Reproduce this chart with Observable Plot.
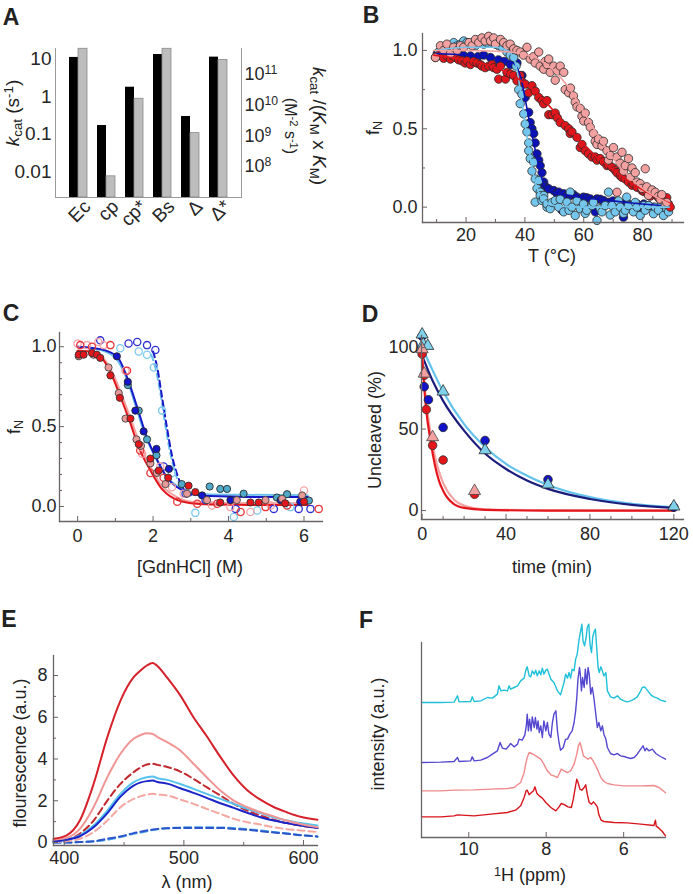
<!DOCTYPE html>
<html><head><meta charset="utf-8">
<script src="https://cdn.jsdelivr.net/npm/d3@7"></script>
<script src="https://cdn.jsdelivr.net/npm/@observablehq/plot@0.6"></script>
<style>
body{margin:0;background:#fff;}
#fig{position:relative;width:693px;height:894px;font-family:"Liberation Sans",Arial,Helvetica,sans-serif;color:#222;overflow:hidden;background:#fff}
.lbl{position:absolute;font-size:18px;white-space:nowrap;line-height:1}
.lbl sub{font-size:0.7em;vertical-align:-0.25em}
.lbl sup{font-size:0.7em;vertical-align:0.45em}
</style></head><body><div id="fig"></div>
<script>
// ---------- Panel A ----------
const aCategories = ["Ec","cp","cp*","Bs","Δ","Δ*"];
const aKcat = [10.8, 0.171, 1.76, 12.9, 0.296, 11.0];
const aKcatKmKm = [6.9e11, 4.8e7, 1.62e10, 6.9e11, 1.23e9, 3.0e11];
const aKcatTicks = [10, 1, 0.1, 0.01];
const aRightTicks = [1e8, 1e9, 1e10, 1e11];
const aKcatDomain = [0.00213, 18.6];
const aRightDomain = [9.8e6, 7.05e11];
// ---------- Panel B ----------
const bXTicks = [20, 40, 60, 80];
const bXMinor = [10, 30, 50, 70, 90];
const bYTicks = [0, 0.5, 1];
const bYMinor = [0.25, 0.75];
const bXDomain = [5.2, 93.9];
const bYDomain = [-0.098, 1.108];
const bPink = [[9.6,0.955],[11.3,1.03],[12.4,1.0],[13.5,1.04],[14.7,0.98],[15.8,1.02],[17,1.0],[18.1,1.03],[19.2,1.02],[21,1.05],[22.1,1.03],[23.2,1.07],[24.3,1.05],[25.4,1.08],[26.5,1.06],[27.7,1.09],[28.3,1.06],[29.4,1.08],[30,1.04],[31.7,1.07],[32.8,1.05],[33.9,1.03],[35,1.04],[36.2,1.01],[37.3,1.0],[38.4,0.99],[39.5,0.97],[40.7,1.02],[41.8,0.945],[42.9,0.96],[43.5,0.92],[44.7,0.99],[45.2,0.9],[46.4,0.88],[46.9,0.93],[47.5,0.91],[48.1,0.945],[48.6,0.86],[49.8,0.9],[50.3,0.81],[51,0.87],[52,0.9],[53.2,0.86],[53.7,0.75],[54.9,0.73],[55.5,0.76],[56.5,0.71],[57.1,0.67],[57.7,0.64],[58.8,0.63],[59.4,0.58],[60,0.55],[60.5,0.6],[61.6,0.54],[62.2,0.51],[63.3,0.47],[63.9,0.42],[64.5,0.4],[65,0.435],[66.2,0.39],[66.7,0.42],[67.9,0.36],[68.4,0.3],[69,0.33],[70.1,0.38],[71.3,0.32],[71.3,0.095],[72.4,0.28],[73,0.35],[73.5,0.23],[74.1,0.265],[75.2,0.31],[75.8,0.19],[76.4,0.25],[77.5,0.22],[78.1,0.16],[79.2,0.15],[79.8,0.12],[80.9,0.245],[81.4,0.13],[82,0.075],[83.2,0.11],[84.3,0.095],[85.4,0.07],[86,0.05],[86.5,0.08],[87.7,0.02],[88.2,0.03]];
const bRed = [[9.6,0.955],[10.7,0.97],[11.9,0.99],[12.4,0.95],[13.5,0.965],[14.7,0.945],[15.2,0.97],[16.4,0.955],[17.5,0.94],[18.6,0.934],[19.7,0.92],[20.3,0.934],[21.5,0.91],[22.6,0.93],[23.7,0.92],[24.8,0.91],[25.4,0.9],[26.5,0.89],[27.7,0.9],[28.8,0.91],[29.4,0.89],[30.5,0.88],[31.1,0.817],[31.7,0.9],[33.4,0.817],[33.9,0.86],[35.1,0.85],[36.2,0.84],[37.3,0.807],[38.4,0.84],[39,0.8],[40.1,0.785],[41.3,0.73],[42.4,0.775],[43.5,0.74],[44.7,0.7],[45.8,0.68],[46.4,0.66],[47.5,0.68],[48.1,0.59],[49.2,0.59],[50.3,0.6],[51,0.57],[52,0.54],[53.7,0.52],[54.9,0.5],[55.4,0.47],[56,0.48],[57.7,0.445],[58.8,0.38],[59.4,0.4],[60.5,0.36],[61.6,0.34],[62.8,0.32],[63.9,0.32],[64.5,0.3],[65.6,0.31],[66.7,0.29],[67.9,0.265],[68.4,0.27],[69.6,0.255],[70.7,0.235],[71.3,0.22],[72.4,0.2],[73,0.19],[74.1,0.18],[75.2,0.16],[76.4,0.14],[77,0.15],[78.1,0.127],[79.8,0.106],[80.4,0.1],[81.4,0.096],[82.6,0.07],[83.2,0.085],[84.8,0.074],[85.4,0.06],[86.5,0.053],[87.7,0.04],[88.2,0.06],[88.8,0.02],[89.4,0.0]];
const bBlue = [[10.2,0.98],[12,0.97],[14.7,0.99],[17,0.98],[19,0.97],[21.5,0.965],[24,0.96],[26,0.97],[28.3,0.955],[31,0.94],[33,0.93],[35.1,0.91],[37.3,0.92],[39,0.84],[40.1,0.7],[41.3,0.605],[41.8,0.54],[42.4,0.5],[43,0.47],[43.5,0.41],[44.1,0.34],[44.7,0.3],[45.2,0.265],[45.8,0.22],[46.4,0.16],[46.4,0.138],[47,0.13],[47.5,0.117],[48.1,0.117],[49.8,0.106],[50.8,0.09],[51.5,0.096],[52.6,-0.02],[53.2,0.085],[54.3,0.07],[55.4,0.074],[56.5,0.08],[57.7,0.064],[58.8,0.05],[59.9,0.064],[61,0.06],[62.2,0.053],[63.3,0.04],[63.9,-0.03],[64.5,0.053],[65.6,0.05],[66.7,0.042],[68,0.03],[69,0.032],[70,0.04],[71.3,0.032],[72.4,0.02],[73.5,0.02],[73.5,-0.064],[74.6,0.03],[75.8,0.01],[77,0.01],[78.1,0.02],[79.2,0],[80.4,0.02],[82,0.01],[83.7,0.0]];
const bLight = [[10.7,0.99],[12.4,1.0],[13.5,1.02],[15.8,1.05],[17,1.03],[18.1,1.04],[19.2,1.06],[20.3,1.05],[21.5,1.04],[23.2,1.03],[24.3,1.06],[26,1.04],[27,1.05],[28.8,1.05],[30,1.06],[31.1,1.03],[32.3,1.02],[33.9,0.99],[35,0.97],[36.2,0.955],[37,0.9],[37.9,0.75],[38.4,0.66],[39,0.72],[39.6,0.595],[40.1,0.53],[40.7,0.48],[41.3,0.41],[41.3,0.36],[41.8,0.31],[42.4,0.23],[43,0.287],[43.5,0.18],[43.5,0.032],[44.1,0.12],[44.7,0.17],[45.2,0.096],[45.2,0.074],[45.8,0.042],[46.4,0.074],[46.4,0.053],[47.5,0],[47.5,0.02],[48.6,-0.01],[49.2,0.03],[50.3,0.042],[51.5,0],[52,0.05],[53.2,-0.03],[54.3,0.032],[55,-0.02],[55.4,0.096],[56,0],[57.1,-0.053],[57.7,0.04],[58.8,-0.01],[59.9,0.02],[60.5,-0.04],[61,-0.02],[62.8,0.01],[63.3,0.03],[64.5,-0.085],[65.6,-0.01],[66.2,-0.03],[67.3,0.01],[68.4,0.096],[69,-0.05],[69.6,0.01],[70.7,-0.03],[71.8,0.04],[72.4,0],[73.5,-0.04],[74.1,-0.02],[74.6,0.064],[75.2,0.01],[76.9,-0.03],[77.5,0.03],[78.1,0],[79.2,-0.053],[80.4,0.01],[80.9,-0.02],[82,0.01],[83.7,-0.042],[84.3,0.0],[85.4,-0.02],[86.5,0.02],[87.1,-0.053],[88.2,-0.01],[88.8,-0.03]];
const bPinkFit = [[9,1.0],[20,1.0],[30,0.995],[35,0.99],[40,0.975],[45,0.94],[50,0.87],[55,0.76],[60,0.61],[65,0.45],[70,0.31],[75,0.2],[80,0.12],[85,0.06],[89,0.02]];
const bRedFit = [[9,0.97],[15,0.955],[20,0.94],[25,0.92],[30,0.89],[35,0.85],[40,0.79],[45,0.71],[50,0.61],[55,0.5],[60,0.4],[65,0.31],[70,0.24],[75,0.17],[80,0.11],[85,0.06],[90,0.02]];
const bBlueFit = [[10,0.98],[20,0.97],[30,0.95],[35,0.93],[37,0.9],[39,0.8],[40,0.7],[41,0.6],[42,0.5],[43,0.41],[44,0.32],[45,0.24],[46,0.17],[47,0.13],[48,0.11],[50,0.09],[55,0.075],[60,0.06],[70,0.04],[80,0.02],[86,0.01]];
const bLightFit = [[10,1.0],[20,1.02],[30,1.02],[34,1.0],[36,0.96],[37,0.9],[38,0.8],[39,0.67],[40,0.54],[41,0.41],[42,0.3],[43,0.2],[44,0.13],[45,0.08],[46,0.05],[48,0.02],[52,0.005],[60,0],[89,0]];
// ---------- Panel C ----------
const cXTicks = [0, 2, 4, 6];
const cXMinor = [1, 3, 5];
const cYTicks = [0, 0.5, 1];
const cYMinor = [0.1, 0.2, 0.3, 0.4, 0.6, 0.7, 0.8, 0.9];
const cXDomain = [-0.48, 6.49];
const cYDomain = [-0.094, 1.089];
const cRedFilled = [[0.03,0.95],[0.16,0.95],[0.38,0.96],[0.51,0.95],[0.6,0.93],[0.87,0.82],[1.12,0.68],[1.4,0.55],[1.62,0.39],[1.93,0.3],[2.15,0.225],[2.4,0.18],[2.94,0.13],[3.12,0.09],[3.78,0.025],[4.58,0.025],[4.8,0.025],[5.5,0.02],[6.0,0.03]];
const cPinkFilled = [[0.03,0.94],[0.42,0.95],[0.82,0.87],[1.09,0.71],[1.27,0.55],[1.56,0.42],[1.68,0.38],[1.93,0.27],[2.1,0.21],[2.33,0.14],[2.9,0.08],[3.43,0.04],[4.22,0.04],[4.98,0.04],[5.42,0.048],[5.95,0.069]];
const cBlueFilled = [[1.04,0.94],[1.33,0.78],[1.53,0.6],[1.75,0.47],[2.09,0.36],[2.42,0.235],[3.3,0.069],[4.05,0.04],[5.38,0.04],[5.9,0.03]];
const cTealFilled = [[1.33,0.76],[1.62,0.6],[1.84,0.42],[2.09,0.32],[2.76,0.14],[3.5,0.125],[3.78,0.11],[3.96,0.11],[4.4,0.08],[5.28,0.056],[5.55,0.077],[6.13,0.037]];
const cRedOpen = [[0.07,1.01],[0.38,1.0],[0.87,1.01],[1.31,0.85],[1.66,0.35],[1.93,0.21],[2.28,0.18],[2.64,0.03],[3.17,0.017],[3.7,0.017],[4.32,-0.035],[4.98,-0.004],[5.55,0.006],[6.39,-0.015]];
const cPinkOpen = [[0.0,1.02],[0.25,1.01],[0.55,1.03],[0.69,1.01],[1.27,0.85],[1.71,0.33],[2.19,0.25],[2.5,0.12],[2.81,0.08],[3.56,0.006],[4.05,-0.004],[4.58,-0.035],[5.12,0.006],[6.0,0.1]];
const cBlueOpen = [[0.6,1.04],[1.35,1.02],[1.58,1.03],[1.84,1.01],[2.06,0.98],[2.28,0.25],[2.86,0.08],[3.39,0.04],[4.19,-0.015],[5.2,-0.015],[5.86,-0.015],[6.17,-0.015]];
const cLightOpen = [[1.13,0.99],[1.62,0.97],[1.84,0.95],[2.02,0.87],[2.24,0.6],[2.5,0.21],[3.12,-0.04],[4.14,-0.066],[4.76,-0.025],[5.64,-0.004]];
const cRedFit = [[0,0.975],[0.3,0.97],[0.6,0.94],[0.87,0.84],[1.13,0.69],[1.4,0.52],[1.62,0.37],[1.93,0.225],[2.2,0.12],[2.55,0.05],[3.0,0.02],[3.5,0.012],[4.5,0.01],[6.1,0.01]];
const cPinkFit = [[0,0.975],[0.3,0.97],[0.6,0.945],[0.9,0.85],[1.15,0.71],[1.42,0.54],[1.65,0.39],[1.95,0.24],[2.2,0.14],[2.55,0.07],[3.0,0.03],[4,0.02],[6.1,0.02]];
const cBlueFit = [[0,1.0],[0.6,0.985],[1.04,0.94],[1.31,0.81],[1.58,0.62],[1.84,0.43],[2.11,0.29],[2.37,0.18],[2.64,0.12],[2.99,0.08],[3.5,0.065],[4.5,0.06],[6.1,0.06]];
const cLightFit = [[0,1.0],[0.6,0.98],[1.0,0.93],[1.3,0.8],[1.55,0.62],[1.8,0.44],[2.08,0.3],[2.35,0.19],[2.62,0.13],[3.0,0.09],[3.5,0.075],[6.1,0.07]];
const cBlueDash = [[2.0,0.97],[2.11,0.87],[2.24,0.68],[2.37,0.49],[2.5,0.32],[2.64,0.2],[2.81,0.11],[3.0,0.07]];
const cLightDash = [[1.95,0.95],[2.06,0.87],[2.2,0.7],[2.33,0.5],[2.46,0.33],[2.6,0.2],[2.78,0.11],[3.0,0.07]];
// ---------- Panel D ----------
const dXTicks = [0, 40, 80, 120];
const dXMinor = [10, 20, 30, 50, 60, 70, 90, 100, 110];
const dYTicks = [0, 50, 100];
const dXDomain = [-0.3, 124.6];
const dYDomain = [-5.5, 107.4];
const dBlueCircles = [[0,107],[1,76],[3,68],[10,51],[30,43],[60,19],[120,2]];
const dLightTriangles = [[0,108],[0.5,102],[2.7,101],[10,73],[30,37],[60,16],[120,2.5]];
const dRedCircles = [[0,96],[1,83],[2,62],[5,40],[10,31],[25,10]];
const dPinkTriangles = [[0,99],[1,84],[5,45],[25,12]];
const dLightFit = [[0,100],[5,86],[10,73],[20,53],[30,39],[40,28.6],[50,21.4],[60,15.7],[80,8.2],[100,4.1],[120,2]];
const dNavyFit = [[0,95],[5,79.6],[10,67.3],[20,49],[30,35],[40,25.5],[50,18.4],[60,13.3],[80,7.1],[100,3.5],[120,1.6]];
const dRedFit = [[0,95],[1,75.5],[2,61],[4,43],[6,28.6],[8,18.4],[10,12.2],[15,4.1],[20,1.6],[30,0.4],[60,0],[120,0]];
const dPinkFit = [[0,97],[1,80],[2,66],[4,48],[6,34],[8,24],[10,17],[15,7],[20,3],[30,0.8],[60,0.1],[120,0]];
// ---------- Panel E ----------
const eXTicks = [400, 500, 600];
const eXMinor = [450, 550];
const eYTicks = [0, 2, 4, 6, 8];
const eYMinor = [1, 3, 5, 7];
const eXDomain = [391, 611.7];
const eYDomain = [-0.144, 8.96];
const eLambda = [391, 402, 413, 424.5, 436, 447, 458, 464, 469, 474, 478, 486, 497, 508, 519, 530.5, 541.7, 553, 564, 575, 586, 597.5, 611.7];
const eRedSolid = [0.18, 0.34, 1.05, 2.8, 5.05, 6.8, 7.92, 8.25, 8.48, 8.6, 8.45, 7.9, 7.05, 6.0, 5.1, 4.1, 3.2, 2.5, 2.05, 1.7, 1.45, 1.23, 1.09];
const ePinkSolid = [0.13, 0.22, 0.65, 1.69, 3.13, 4.25, 4.97, 5.15, 5.24, 5.2, 5.05, 4.81, 4.41, 3.77, 3.13, 2.49, 2.01, 1.69, 1.45, 1.25, 1.05, 0.89, 0.73];
const eRedDashed = [0.06, 0.13, 0.42, 1.05, 2.01, 2.81, 3.37, 3.6, 3.74, 3.77, 3.72, 3.62, 3.4, 3.05, 2.65, 2.25, 1.85, 1.53, 1.29, 1.09, 0.93, 0.81, 0.70];
const eLightSolid = [0.06, 0.13, 0.34, 0.81, 1.53, 2.33, 2.89, 3.05, 3.13, 3.16, 3.08, 3.0, 2.8, 2.57, 2.33, 2.09, 1.85, 1.61, 1.41, 1.21, 1.05, 0.93, 0.81];
const eBlueSolid = [0.06, 0.13, 0.30, 0.73, 1.41, 2.2, 2.73, 2.88, 2.94, 2.97, 2.9, 2.82, 2.6, 2.38, 2.14, 1.88, 1.66, 1.42, 1.21, 1.05, 0.93, 0.81, 0.69];
const ePinkDashed = [0.02, 0.06, 0.18, 0.5, 1.05, 1.69, 2.09, 2.22, 2.3, 2.33, 2.3, 2.25, 2.06, 1.85, 1.61, 1.37, 1.13, 0.97, 0.86, 0.73, 0.64, 0.58, 0.5];
const eBlueDashed = [0, 0, 0.02, 0.06, 0.18, 0.29, 0.45, 0.52, 0.58, 0.62, 0.65, 0.68, 0.70, 0.70, 0.70, 0.70, 0.65, 0.61, 0.54, 0.48, 0.42, 0.35, 0.29];
const eLightDashed = [0, 0, 0.02, 0.05, 0.13, 0.26, 0.42, 0.48, 0.54, 0.6, 0.64, 0.68, 0.72, 0.73, 0.73, 0.72, 0.69, 0.64, 0.58, 0.5, 0.44, 0.36, 0.28];
// ---------- Panel F ----------
const fXTicks = [10, 8, 6];
const fXDomain = [11.22, 4.92];
const fYDomain = [0, 585];
const fCyan = [[11.22,405],[10.72,405],[10.38,406],[10.29,425],[10.25,407],[9.95,408],[9.91,422],[9.86,408],[9.69,410],[9.52,420],[9.39,418],[9.26,430],[9.22,455],[9.17,440],[9.09,442],[9.00,440],[8.96,455],[8.92,445],[8.83,450],[8.74,455],[8.66,470],[8.57,478],[8.53,500],[8.49,512],[8.44,485],[8.40,482],[8.36,500],[8.31,490],[8.27,502],[8.23,485],[8.18,500],[8.14,488],[8.10,508],[8.06,490],[8.01,502],[7.97,505],[7.88,475],[7.80,465],[7.71,440],[7.63,428],[7.54,465],[7.50,490],[7.45,478],[7.41,495],[7.37,478],[7.33,505],[7.28,500],[7.24,535],[7.20,550],[7.15,595],[7.11,620],[7.08,640],[7.05,590],[7.01,575],[6.97,600],[6.94,630],[6.90,640],[6.87,580],[6.83,555],[6.80,600],[6.77,615],[6.73,625],[6.70,575],[6.66,510],[6.63,495],[6.59,512],[6.55,500],[6.51,485],[6.46,495],[6.42,440],[6.34,422],[6.25,418],[6.16,425],[6.08,415],[5.99,410],[5.91,407],[5.82,410],[5.73,415],[5.65,422],[5.56,440],[5.52,450],[5.46,452],[5.39,442],[5.30,428],[5.22,422],[5.13,418],[5.05,412],[4.92,408]];
const fPurple = [[11.22,225],[10.72,226],[10.38,228],[10.29,240],[10.25,228],[9.95,230],[9.91,242],[9.86,230],[9.69,232],[9.52,240],[9.39,250],[9.26,260],[9.19,285],[9.13,268],[9.04,265],[8.96,275],[8.92,282],[8.83,272],[8.74,280],[8.70,295],[8.62,292],[8.55,308],[8.51,340],[8.49,370],[8.46,320],[8.43,355],[8.39,320],[8.36,362],[8.31,330],[8.28,360],[8.24,325],[8.21,350],[8.18,315],[8.14,335],[8.10,300],[8.06,350],[8.01,320],[7.97,345],[7.93,310],[7.88,300],[7.84,345],[7.80,370],[7.75,380],[7.71,320],[7.67,285],[7.63,262],[7.56,270],[7.50,295],[7.45,295],[7.39,310],[7.33,320],[7.28,345],[7.24,380],[7.21,420],[7.18,475],[7.14,510],[7.12,490],[7.09,440],[7.06,480],[7.02,450],[6.99,505],[6.95,460],[6.92,510],[6.89,490],[6.85,430],[6.81,450],[6.77,420],[6.71,360],[6.68,330],[6.64,345],[6.59,320],[6.55,335],[6.51,310],[6.46,295],[6.42,270],[6.34,252],[6.25,248],[6.16,252],[6.08,245],[5.99,243],[5.91,240],[5.82,237],[5.73,240],[5.65,250],[5.56,265],[5.50,275],[5.45,260],[5.41,268],[5.35,260],[5.26,265],[5.17,252],[5.05,243],[4.92,235]];
const fPink = [[11.22,140],[10.72,140],[10.38,142],[9.86,143],[9.43,145],[9.00,147],[8.83,150],[8.66,165],[8.57,195],[8.53,220],[8.49,240],[8.44,255],[8.38,252],[8.31,248],[8.23,242],[8.14,235],[8.06,220],[7.97,200],[7.88,188],[7.80,185],[7.71,180],[7.65,195],[7.61,205],[7.54,200],[7.45,195],[7.37,200],[7.28,220],[7.21,250],[7.17,275],[7.13,285],[7.09,270],[7.04,245],[6.98,240],[6.92,235],[6.85,240],[6.79,230],[6.72,215],[6.66,200],[6.59,180],[6.51,168],[6.42,162],[6.25,158],[5.99,155],[5.56,155],[5.22,156],[5.09,150],[5.00,142],[4.92,134]];
const fRed = [[11.22,62],[10.72,62],[10.38,65],[10.29,68],[9.86,65],[9.43,70],[9.00,75],[8.79,82],[8.66,95],[8.57,120],[8.52,140],[8.49,142],[8.44,128],[8.38,135],[8.33,140],[8.29,152],[8.24,132],[8.18,125],[8.10,118],[8.01,105],[7.88,90],[7.75,80],[7.67,92],[7.61,102],[7.52,98],[7.44,92],[7.35,90],[7.30,115],[7.25,150],[7.21,175],[7.17,162],[7.13,145],[7.08,142],[7.02,150],[6.98,158],[6.94,130],[6.89,105],[6.83,100],[6.78,107],[6.73,100],[6.68,92],[6.64,68],[6.58,52],[6.51,48],[6.25,45],[5.91,44],[5.56,40],[5.22,36],[5.18,52],[5.16,34],[5.09,28],[5.00,18],[4.92,5]];

// ---------- helpers ----------
const fig = document.getElementById("fig");
const FONT = '"Liberation Sans", Arial, Helvetica, sans-serif';
const AX = "#6a6464";
const TXT = "#262626";
const baseStyle = {fontFamily: FONT, fontSize: "18px", color: TXT, background: "none", overflow: "visible"};
function put(el, left, top) {
  el.style.position = "absolute"; el.style.left = left + "px"; el.style.top = top + "px";
  fig.appendChild(el);
}
function txt(html, cx, cy, opts = {}) {
  const d = document.createElement("div");
  d.className = "lbl"; d.innerHTML = html;
  d.style.left = cx + "px"; d.style.top = cy + "px";
  d.style.transform = `translate(-50%,-50%) rotate(${opts.rot || 0}deg)`;
  if (opts.size) d.style.fontSize = opts.size + "px";
  if (opts.bold) d.style.fontWeight = "bold";
  if (opts.align) d.style.textAlign = opts.align;
  if (opts.lh) d.style.lineHeight = opts.lh;
  fig.appendChild(d);
}
const X = d => d[0], Y = d => d[1];
const blank = () => "";
function lAxes(xt, xm, yt, ym, xfmt, yfmt, xpad, ypad) {
  const m = [
    Plot.frame({anchor: "left", stroke: AX, strokeWidth: 1.3}),
    Plot.frame({anchor: "bottom", stroke: AX, strokeWidth: 1.3}),
    Plot.axisX({ticks: xt, tickFormat: xfmt, tickSize: 0, tickPadding: xpad, label: null, color: TXT}),
    Plot.axisY({ticks: yt, tickFormat: yfmt, tickSize: 0, tickPadding: ypad, label: null, color: TXT}),
    Plot.axisX({ticks: xt, tickFormat: blank, tickSize: -5, label: null, color: AX}),
    Plot.axisY({ticks: yt, tickFormat: blank, tickSize: -5, label: null, color: AX})
  ];
  if (xm) m.push(Plot.axisX({ticks: xm, tickFormat: blank, tickSize: -3, label: null, color: AX}));
  if (ym) m.push(Plot.axisY({ticks: ym, tickFormat: blank, tickSize: -3, label: null, color: AX}));
  return m;
}

// ---------- Panel A ----------
const aRows = aCategories.map((c, i) => ({c, k: aKcat[i], e: aKcatKmKm[i]}));
const aX = {type: "band", domain: aCategories, paddingInner: 0.37, paddingOuter: 0.46};
const aDims = {width: 340, height: 200, marginLeft: 55, marginRight: 99, marginTop: 18, marginBottom: 33};
const aBlack = Plot.plot({
  ...aDims, style: baseStyle,
  x: aX, y: {type: "log", domain: aKcatDomain},
  marks: [
    Plot.barY(aRows, {x: "c", y1: aKcatDomain[0], y2: "k", fill: "#000", insetRight: 9}),
    Plot.frame({anchor: "left", stroke: "#9a9a9a"}),
    Plot.frame({anchor: "bottom", stroke: "#9a9a9a"}),
    Plot.frame({anchor: "right", stroke: "#9a9a9a"}),
    Plot.axisY({ticks: aKcatTicks, tickFormat: d => String(d), tickSize: 0, tickPadding: 4, label: null, color: TXT, fontSize: 19}),
    Plot.axisX({tickSize: 0, tickPadding: 6, tickRotate: -45, dx: 9, label: null, color: TXT, fontSize: 19})
  ]
});
put(aBlack, 0, 30);
const aGray = Plot.plot({
  ...aDims, style: baseStyle,
  x: {...aX, axis: null}, y: {type: "log", domain: aRightDomain},
  marks: [
    Plot.barY(aRows, {x: "c", y1: aRightDomain[0], y2: "e", fill: "#bdbdbd", stroke: "#8a8a8a", strokeWidth: 0.8, insetLeft: 9}),
    Plot.axisY({anchor: "right", ticks: aRightTicks, tickFormat: d => "10^" + Math.round(Math.log10(d)), tickSize: 0, tickPadding: 3, label: null, color: TXT})
  ]
});
// turn "10^11" tick texts into 10 with a superscript exponent
d3.select(aGray).selectAll("text").each(function() {
  const t = d3.select(this);
  const s = t.text();
  if (s.indexOf("^") < 0) return;
  const [base, ex] = s.split("^");
  t.text(base);
  t.append("tspan").attr("dy", "-0.5em").attr("font-size", "0.68em").text(ex);
});
aGray.style.pointerEvents = "none";
put(aGray, 0, 30);

// ---------- Panel B ----------
const bDot = (data, fill) => Plot.dot(data, {x: X, y: Y, r: 4.2, fill, stroke: "#2a2a2a", strokeWidth: 0.8});
const bLine = (data, stroke) => Plot.line(data, {x: X, y: Y, stroke, strokeWidth: 1.6, curve: "monotone-x"});
const bPlot = Plot.plot({
  width: 353, height: 250, marginLeft: 82, marginRight: 10, marginTop: 13, marginBottom: 48,
  style: baseStyle, x: {domain: bXDomain}, y: {domain: bYDomain},
  marks: [
    bDot(bBlue, "#0c12b4"), bDot(bLight, "#74c6ec"), bDot(bRed, "#e0161c"), bDot(bPink, "#f3a0a0"),
    bLine(bBlueFit, "#0c12b4"), bLine(bLightFit, "#74c6ec"), bLine(bRedFit, "#e0161c"), bLine(bPinkFit, "#f3a0a0"),
    ...lAxes(bXTicks, bXMinor, bYTicks, bYMinor, d => String(d), d3.format(".1f"), 6, 5)
  ]
});
put(bPlot, 340, 20);

// ---------- Panel C ----------
const cFill = (data, fill, stroke) => Plot.dot(data, {x: X, y: Y, r: 3.6, fill, stroke, strokeWidth: 0.9});
const cOpen = (data, stroke) => Plot.dot(data, {x: X, y: Y, r: 3.6, fill: "none", stroke, strokeWidth: 1.3});
const cLine = (data, stroke, dash) => Plot.line(data, {x: X, y: Y, stroke, strokeWidth: 2, curve: "monotone-x", strokeDasharray: dash});
const cPlot = Plot.plot({
  width: 340, height: 270, marginLeft: 59, marginRight: 18, marginTop: 22, marginBottom: 59,
  style: baseStyle, x: {domain: cXDomain}, y: {domain: cYDomain},
  marks: [
    cLine(cLightFit, "#6cc0ea"), cLine(cBlueFit, "#1818c8"), cLine(cPinkFit, "#f2a0a0"), cLine(cRedFit, "#e0161c"),
    cLine(cLightDash, "#6cc0ea", "6,4"), cLine(cBlueDash, "#1818c8", "6,4"),
    cOpen(cLightOpen, "#7ccaf0"), cOpen(cBlueOpen, "#2f2fd0"), cOpen(cPinkOpen, "#f3a3a6"), cOpen(cRedOpen, "#e8353a"),
    cFill(cTealFilled, "#4fa9c9", "#2a2a2a"), cFill(cBlueFilled, "#1515cc", "#222"), cFill(cPinkFilled, "#e99a98", "#444"), cFill(cRedFilled, "#e3161b", "#333"),
    ...lAxes(cXTicks, cXMinor, cYTicks, cYMinor, d => String(d), d3.format(".1f"), 8, 3)
  ]
});
put(cPlot, 0, 310);

// ---------- Panel D ----------
const dLine = (data, stroke) => Plot.line(data, {x: X, y: Y, stroke, strokeWidth: 2.2, curve: "monotone-x"});
const dPlot = Plot.plot({
  width: 353, height: 270, marginLeft: 81, marginRight: 10, marginTop: 25, marginBottom: 61,
  style: baseStyle, x: {domain: dXDomain}, y: {domain: dYDomain},
  marks: [
    dLine(dLightFit, "#62c2ec"), dLine(dNavyFit, "#1c1c7c"), dLine(dPinkFit, "#f3a3a3"), dLine(dRedFit, "#e5151c"),
    Plot.dot(dBlueCircles, {x: X, y: Y, r: 4.3, fill: "#1212c8", stroke: "#222", strokeWidth: 0.8}),
    Plot.dot(dRedCircles, {x: X, y: Y, r: 4.3, fill: "#e3161b", stroke: "#333", strokeWidth: 0.8}),
    Plot.dot(dLightTriangles, {x: X, y: Y, r: 4.5, symbol: "triangle", fill: "#7fd0ea", stroke: "#2a2a2a", strokeWidth: 0.8}),
    Plot.dot(dPinkTriangles, {x: X, y: Y, r: 4.5, symbol: "triangle", fill: "#f3a0a0", stroke: "#444", strokeWidth: 0.8}),
    ...lAxes(dXTicks, dXMinor, dYTicks, null, d => String(d), d => String(d), 8, 3)
  ]
});
put(dPlot, 340, 310);

// ---------- Panel E ----------
const eRows = (vals) => eLambda.map((l, i) => [l, vals[i]]);
const eLine = (vals, stroke, dash) => Plot.line(eRows(vals), {x: X, y: Y, stroke, strokeWidth: 2, curve: "monotone-x", strokeDasharray: dash});
const ePlot = Plot.plot({
  width: 340, height: 254, marginLeft: 53, marginRight: 23, marginTop: 15, marginBottom: 49,
  style: baseStyle, x: {domain: eXDomain}, y: {domain: eYDomain},
  marks: [
    eLine(eLightDashed, "#4aa3e6", "7,4"), eLine(eBlueDashed, "#2b55c8", "7,4"),
    eLine(ePinkDashed, "#f4a6a0", "7,4"), eLine(eRedDashed, "#c0282e", "7,4"),
    eLine(eLightSolid, "#55c3ee"), eLine(eBlueSolid, "#1b24c8"),
    eLine(ePinkSolid, "#f09494"), eLine(eRedSolid, "#d6202a"),
    ...lAxes(eXTicks, eXMinor, eYTicks, eYMinor, d => String(d), d => String(d), 6, 6)
  ]
});
put(ePlot, 0, 640);

// ---------- Panel F ----------
const fLine = (data, stroke) => Plot.line(data, {x: X, y: Y, stroke, strokeWidth: 1.4});
const fPlot = Plot.plot({
  width: 353, height: 279, marginLeft: 81, marginRight: 28, marginTop: 27, marginBottom: 57,
  style: baseStyle, x: {domain: fXDomain}, y: {domain: fYDomain, axis: null},
  marks: [
    fLine(fRed, "#d7141c"), fLine(fPink, "#f08a8c"), fLine(fPurple, "#5548d0"), fLine(fCyan, "#1fc0d8"),
    Plot.frame({anchor: "left", stroke: AX, strokeWidth: 1.3}),
    Plot.frame({anchor: "bottom", stroke: AX, strokeWidth: 1.3}),
    Plot.axisX({ticks: fXTicks, tickFormat: d => String(d), tickSize: 0, tickPadding: 5, label: null, color: TXT}),
    Plot.axisX({ticks: fXTicks, tickFormat: blank, tickSize: -5, label: null, color: AX})
  ]
});
put(fPlot, 340, 615);

// ---------- text labels ----------
txt("A", 11, 17, {bold: true, size: 23});
txt("B", 371, 15, {bold: true, size: 23});
txt("C", 11, 313, {bold: true, size: 23});
txt("D", 370, 314, {bold: true, size: 23});
txt("E", 9, 619, {bold: true, size: 23});
txt("F", 366, 620, {bold: true, size: 23});
txt("<i>k</i><sub>cat</sub> (s<sup>-1</sup>)", 13, 113, {rot: -90, size: 19});
txt("<i>k</i><sub>cat</sub> /(<i>K</i><sub>M</sub> x <i>K</i><sub>M</sub>)<br><span style='font-size:16px'>(M<sup>-2</sup> s<sup>-1</sup>)</span>", 305, 126, {rot: 90, size: 19, align: "center", lh: "21px"});
txt("f<sub>N</sub>", 374, 128, {rot: -90});
txt("T (°C)", 552, 256);
txt("f<sub>N</sub>", 15, 427, {rot: -90});
txt("[GdnHCl] (M)", 190, 567);
txt("Uncleaved (%)", 375, 430, {rot: -90});
txt("time (min)", 552, 567);
txt("flourescence (a.u.)", 20, 753, {rot: -90});
txt("λ (nm)", 187, 882);
txt("intensity (a.u.)", 378, 734, {rot: -90});
txt("<sup>1</sup>H (ppm)", 530, 875);
</script></body></html>
